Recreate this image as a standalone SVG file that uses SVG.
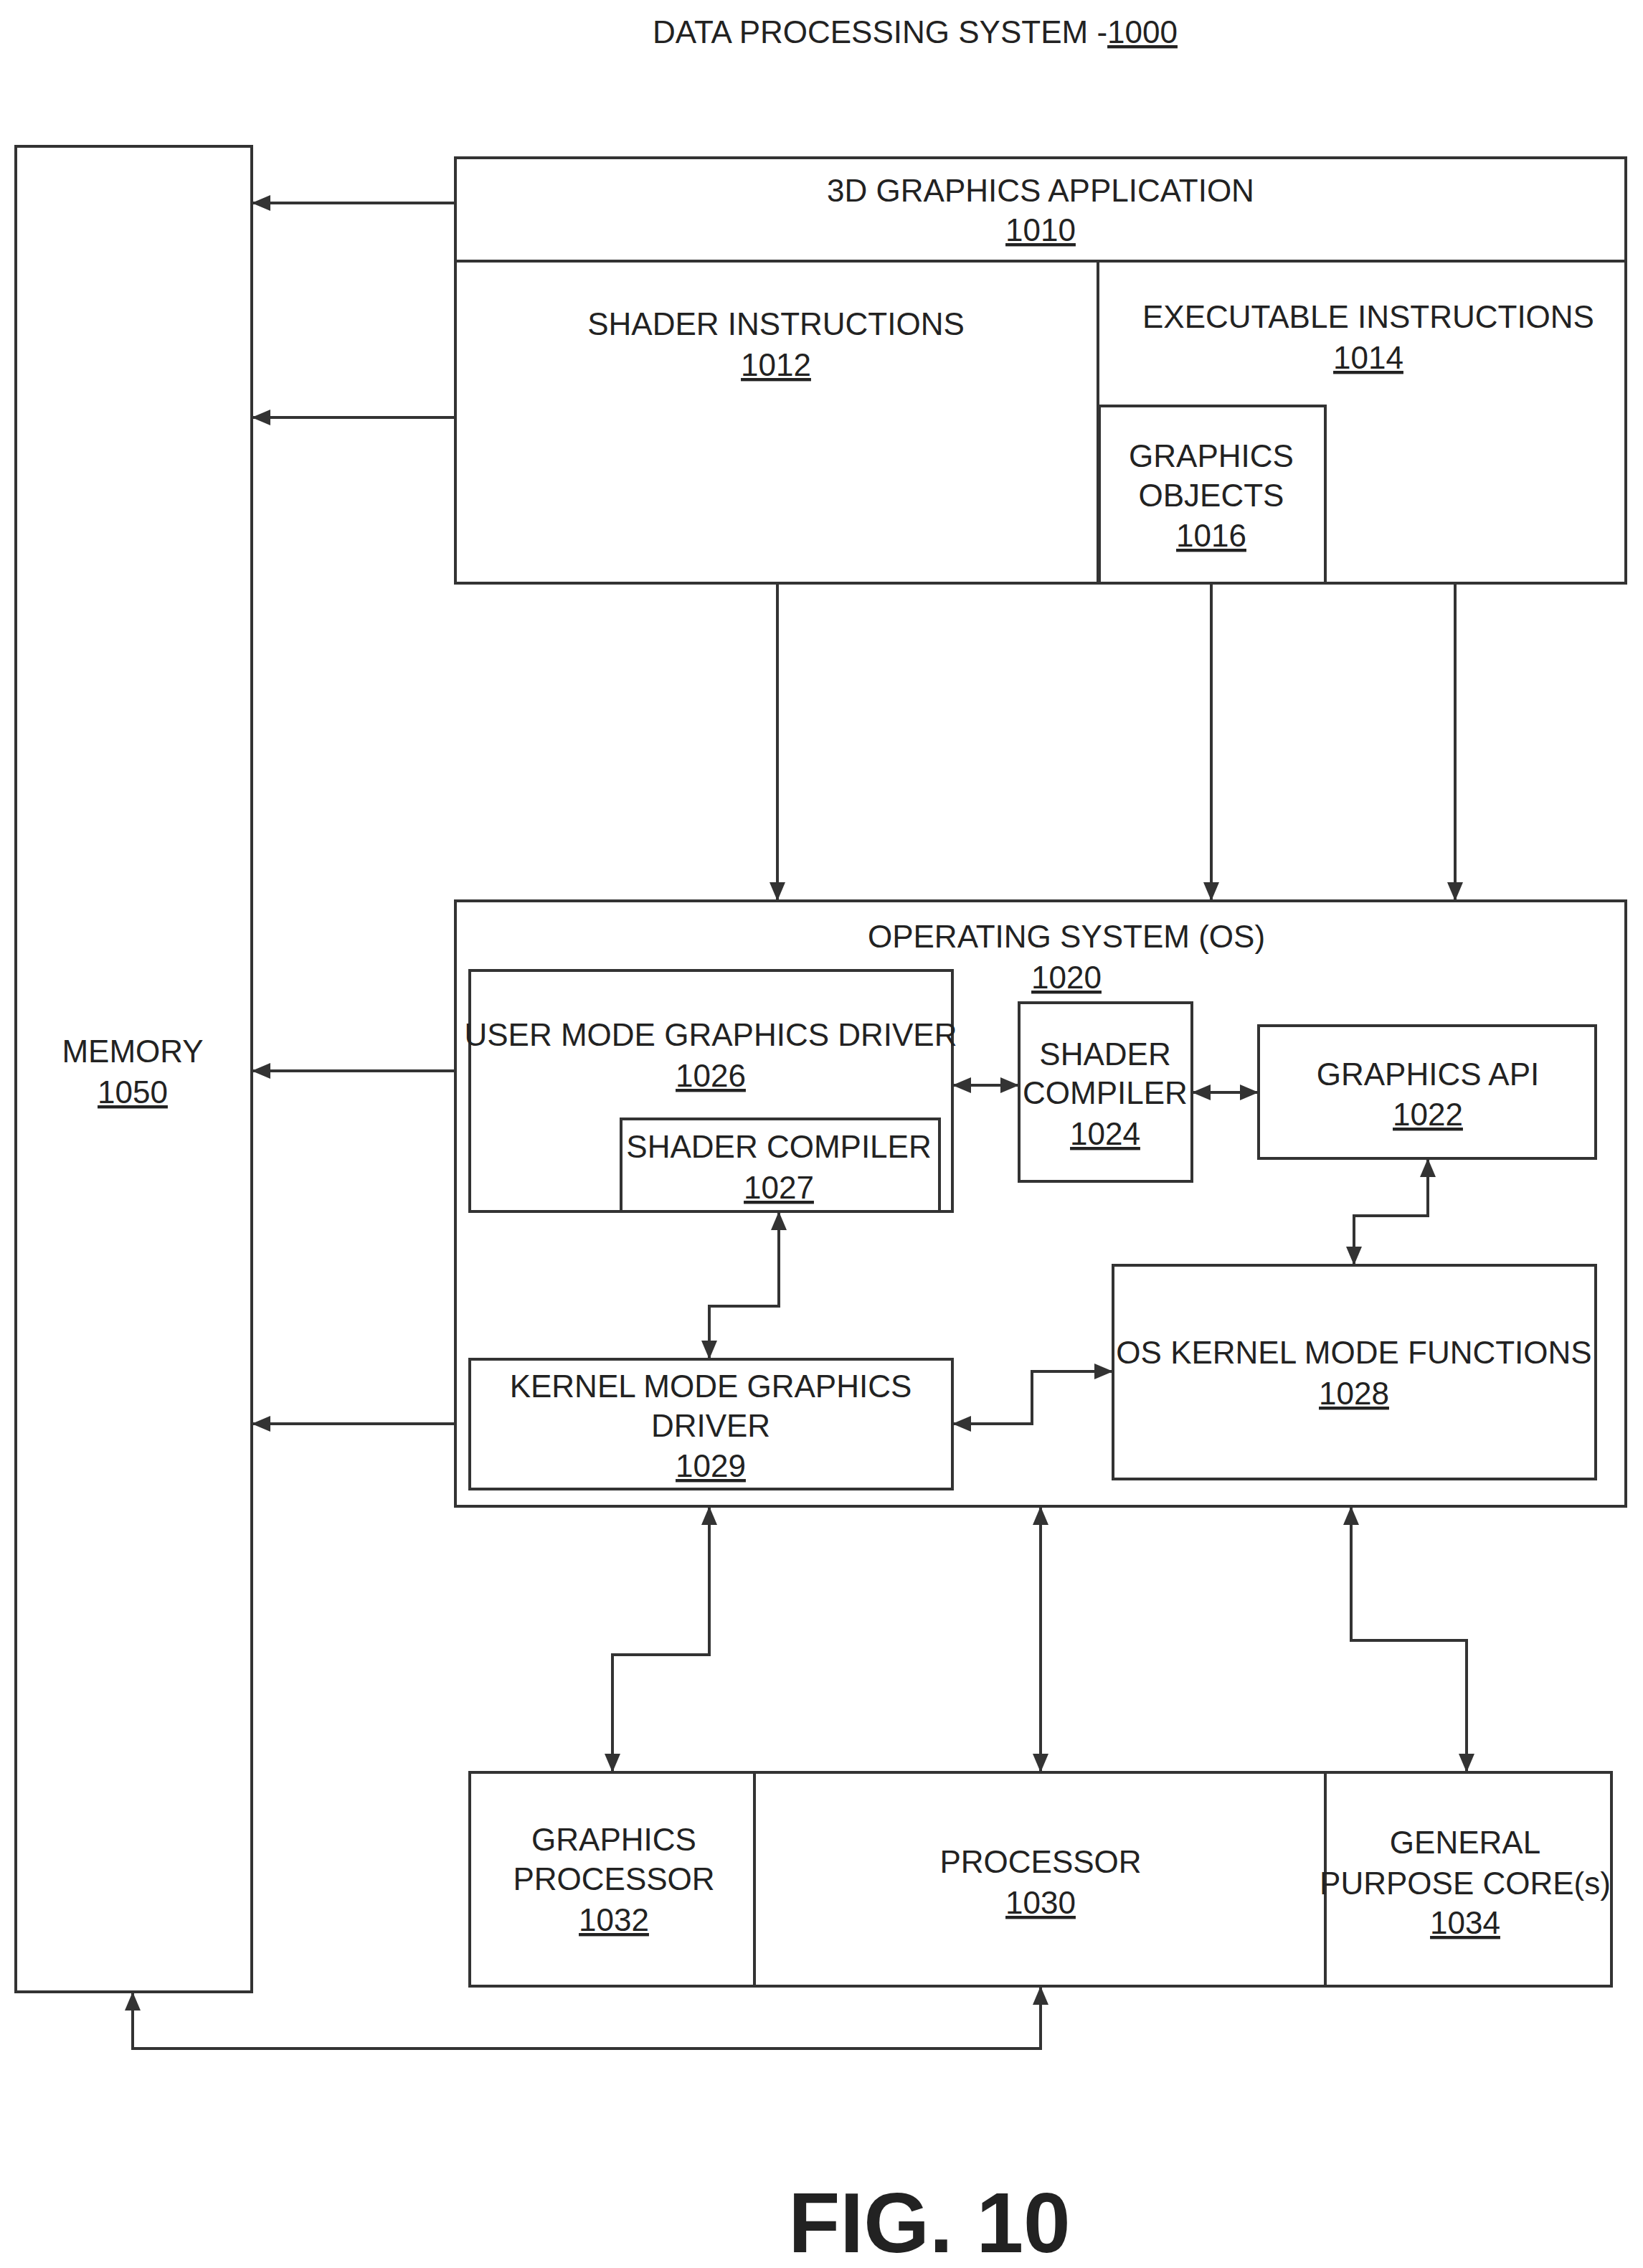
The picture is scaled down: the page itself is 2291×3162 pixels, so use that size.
<svg xmlns="http://www.w3.org/2000/svg" width="2291" height="3162" viewBox="0 0 2291 3162">
<style>
.b{fill:#fff;stroke:#333;stroke-width:4}
.c{fill:none;stroke:#333;stroke-width:4}
text{font-family:"Liberation Sans",Arial,sans-serif;font-size:44px;fill:#222;text-anchor:middle}
.u{text-decoration:underline}
</style>
<defs>
<marker id="a" markerUnits="userSpaceOnUse" markerWidth="26" markerHeight="22" refX="24" refY="11" orient="auto-start-reverse"><path d="M0,0 L26,11 L0,22 Z" fill="#333"/></marker>
</defs>
<rect width="2291" height="3162" fill="#fff"/>
<text x="1276" y="60">DATA PROCESSING SYSTEM -<tspan class="u">1000</tspan></text>
<g id="memory"><rect class="b" x="22" y="204" width="329" height="2573"/><text x="185" y="1481">MEMORY</text><text class="u" x="185" y="1538">1050</text></g>
<g id="app"><rect class="b" x="635" y="220" width="1632" height="593"/><line class="c" x1="635" y1="364" x2="2267" y2="364"/><line class="c" x1="1531" y1="364" x2="1531" y2="813"/>
<text x="1451" y="281">3D GRAPHICS APPLICATION</text><text class="u" x="1451" y="336">1010</text>
<text x="1082" y="467">SHADER INSTRUCTIONS</text><text class="u" x="1082" y="524">1012</text>
<text x="1908" y="457">EXECUTABLE INSTRUCTIONS</text><text class="u" x="1908" y="514">1014</text></g>
<g id="gobj"><rect class="b" x="1533" y="566" width="315" height="247"/><text x="1689" y="651">GRAPHICS</text><text x="1689" y="706">OBJECTS</text><text class="u" x="1689" y="762">1016</text></g>
<g id="os"><rect class="b" x="635" y="1256" width="1632" height="844"/><text x="1487" y="1321">OPERATING SYSTEM (OS)</text><text class="u" x="1487" y="1378">1020</text></g>
<g id="umd"><rect class="b" x="655" y="1353" width="673" height="336"/><text x="991" y="1458">USER MODE GRAPHICS DRIVER</text><text class="u" x="991" y="1515">1026</text></g>
<g id="sc1027"><rect class="b" x="866" y="1560" width="444" height="129"/><text x="1086" y="1614">SHADER COMPILER</text><text class="u" x="1086" y="1671">1027</text></g>
<g id="sc1024"><rect class="b" x="1421" y="1398" width="241" height="249"/><text x="1541" y="1485">SHADER</text><text x="1541" y="1539">COMPILER</text><text class="u" x="1541" y="1596">1024</text></g>
<g id="api"><rect class="b" x="1755" y="1430" width="470" height="185"/><text x="1991" y="1513">GRAPHICS API</text><text class="u" x="1991" y="1569">1022</text></g>
<g id="kern"><rect class="b" x="1552" y="1764" width="673" height="298"/><text x="1888" y="1901">OS KERNEL MODE FUNCTIONS</text><text class="u" x="1888" y="1958">1028</text></g>
<g id="kmd"><rect class="b" x="655" y="1895" width="673" height="181"/><text x="991" y="1948">KERNEL MODE GRAPHICS</text><text x="991" y="2003">DRIVER</text><text class="u" x="991" y="2059">1029</text></g>
<g id="proc"><rect class="b" x="655" y="2471" width="1592" height="298"/><line class="c" x1="1052" y1="2471" x2="1052" y2="2769"/><line class="c" x1="1848" y1="2471" x2="1848" y2="2769"/>
<text x="856" y="2580">GRAPHICS</text><text x="856" y="2635">PROCESSOR</text><text class="u" x="856" y="2692">1032</text>
<text x="1451" y="2611">PROCESSOR</text><text class="u" x="1451" y="2668">1030</text>
<text x="2043" y="2584">GENERAL</text><text x="2043" y="2641">PURPOSE CORE(s)</text><text class="u" x="2043" y="2696">1034</text></g>
<g id="connectors">
<line class="c" x1="635" y1="283" x2="353" y2="283" marker-end="url(#a)"/>
<line class="c" x1="635" y1="582" x2="353" y2="582" marker-end="url(#a)"/>
<line class="c" x1="635" y1="1493" x2="353" y2="1493" marker-end="url(#a)"/>
<line class="c" x1="635" y1="1985" x2="353" y2="1985" marker-end="url(#a)"/>
<line class="c" x1="1084" y1="813" x2="1084" y2="1254" marker-end="url(#a)"/>
<line class="c" x1="1689" y1="813" x2="1689" y2="1254" marker-end="url(#a)"/>
<line class="c" x1="2029" y1="813" x2="2029" y2="1254" marker-end="url(#a)"/>
<line class="c" x1="1330" y1="1513" x2="1419" y2="1513" marker-start="url(#a)" marker-end="url(#a)"/>
<line class="c" x1="1664" y1="1523" x2="1753" y2="1523" marker-start="url(#a)" marker-end="url(#a)"/>
<polyline class="c" points="1991,1617 1991,1695 1888,1695 1888,1762" marker-start="url(#a)" marker-end="url(#a)"/>
<polyline class="c" points="1086,1691 1086,1821 989,1821 989,1893" marker-start="url(#a)" marker-end="url(#a)"/>
<polyline class="c" points="1330,1985 1439,1985 1439,1912 1550,1912" marker-start="url(#a)" marker-end="url(#a)"/>
<polyline class="c" points="989,2102 989,2307 854,2307 854,2469" marker-start="url(#a)" marker-end="url(#a)"/>
<line class="c" x1="1451" y1="2102" x2="1451" y2="2469" marker-start="url(#a)" marker-end="url(#a)"/>
<polyline class="c" points="1884,2102 1884,2287 2045,2287 2045,2469" marker-start="url(#a)" marker-end="url(#a)"/>
<polyline class="c" points="1451,2771 1451,2856 185,2856 185,2779" marker-start="url(#a)" marker-end="url(#a)"/>
</g>
<text x="1296" y="3140" style="font-size:118px;font-weight:bold">FIG. 10</text>
</svg>
